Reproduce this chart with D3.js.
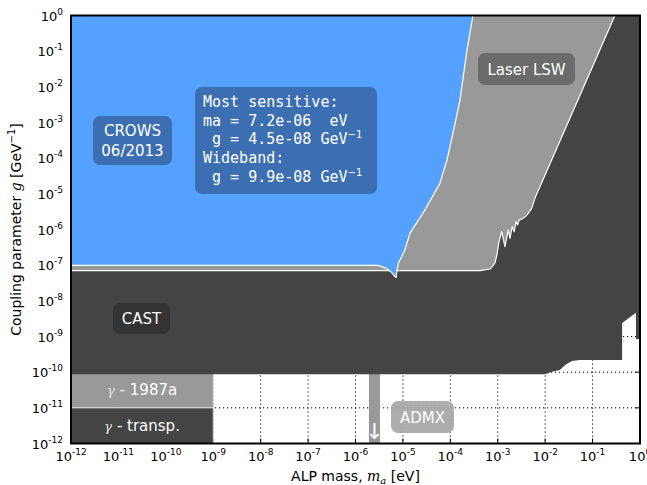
<!DOCTYPE html>
<html>
<head>
<meta charset="utf-8">
<script src="https://cdn.jsdelivr.net/npm/d3@7"></script>
<style>
  body { margin: 0; background: #fff; }
  svg { display: block; font-family: "DejaVu Sans", sans-serif; }
  .mono { font-family: "DejaVu Sans Mono", monospace; white-space: pre; }
</style>
</head>
<body>
<svg id="chart" width="647" height="485"></svg>
<script>
// axis decades (exponents of 10)
const xExponents = [-12, -11, -10, -9, -8, -7, -6, -5, -4, -3, -2, -1, 0];
const yExponents = [-12, -11, -10, -9, -8, -7, -6, -5, -4, -3, -2, -1, 0];

// CROWS 06/2013 excluded region, [m_a eV, g GeV^-1]
const crowsRegion = [
  [1e-12, 1], [3.0e-4, 1], [2.24e-4, 1.07e-1], [1.6e-4, 4.3e-3], [1.14e-4, 5.1e-4],
  [8.5e-5, 8.9e-5], [6.05e-5, 2.0e-5], [2.92e-5, 3.55e-6], [1.41e-5, 7.9e-7],
  [1.1e-5, 2.7e-7], [9.4e-6, 1.73e-7], [8.0e-6, 1.13e-7], [7.4e-6, 6.6e-8],
  [7.2e-6, 4.5e-8], [6.8e-6, 4.8e-8], [5.8e-6, 6.2e-8], [4.5e-6, 8.1e-8],
  [3.0e-6, 9.9e-8], [1e-12, 9.9e-8]
];

// Laser light-shining-through-wall region
const lswRegion = [
  [1e-12, 1], [0.296, 1], [6.1e-3, 7.6e-6], [5.19e-3, 3.9e-6], [4.07e-3, 2.45e-6],
  [3.19e-3, 1.95e-6], [2.84e-3, 1.86e-6], [2.63e-3, 1.35e-6], [2.42e-3, 1.66e-6],
  [2.23e-3, 8.7e-7], [2.02e-3, 1.2e-6], [1.81e-3, 5.6e-7], [1.67e-3, 9.8e-7],
  [1.42e-3, 3.3e-7], [1.21e-3, 8.7e-7], [1.06e-3, 4.5e-7], [9.6e-4, 1.93e-7],
  [8.7e-4, 1.15e-7], [6.9e-4, 7.8e-8], [4.2e-4, 7.0e-8], [1e-12, 7.0e-8]
];

// CAST (helioscope) region
const castRegion = [
  [1e-12, 1], [1, 1], [1, 8.5e-10], [0.82, 8.5e-10], [0.82, 4.6e-9], [0.42, 2.4e-9],
  [0.42, 2.2e-10], [0.0537, 2.2e-10], [0.0367, 2.04e-10], [0.0263, 1.58e-10],
  [0.0204, 1.15e-10], [0.0139, 1.02e-10], [0.01, 8.8e-11], [1e-12, 8.8e-11]
];

// rectangles: [xmin, xmax, gmin, gmax]
const sn1987a = [1e-12, 1e-9, 1e-11, 1e-10];
const transparency = [1e-12, 1e-9, 1e-12, 1e-11];
const admx = [1.92e-6, 3.28e-6, 1e-12, 1e-10];

const sensitiveLines = [
  "Most sensitive:",
  "ma = 7.2e-06  eV",
  " g = 4.5e-08 GeV",
  "Wideband:",
  " g = 9.9e-08 GeV"
];

const svg = d3.select("#chart");
const margin = { left: 71, right: 7, top: 15.5, bottom: 41.5 };
const W = 647, H = 485;
const x0 = margin.left, x1 = W - margin.right;
const y0 = margin.top, y1 = H - margin.bottom;

const x = d3.scaleLog().domain([1e-12, 1]).range([x0, x1]);
const y = d3.scaleLog().domain([1e-12, 1]).range([y1, y0]);

const line = d3.line().x(d => x(d[0])).y(d => y(d[1]));

svg.append("defs").append("clipPath").attr("id", "plotClip")
  .append("rect").attr("x", x0).attr("y", y0).attr("width", x1 - x0).attr("height", y1 - y0);

// grid + ticks (below the regions)
const under = svg.append("g");
xExponents.forEach(e => {
  const px = x(Math.pow(10, e));
  under.append("line").attr("x1", px).attr("x2", px).attr("y1", y0).attr("y2", y1)
    .attr("stroke", "#000").attr("stroke-width", 1).attr("stroke-dasharray", "1.2,2.8");
  under.append("line").attr("x1", px).attr("x2", px).attr("y1", y1).attr("y2", y1 - 5).attr("stroke", "#000");
  under.append("line").attr("x1", px).attr("x2", px).attr("y1", y0).attr("y2", y0 + 5).attr("stroke", "#000");
});
yExponents.forEach(e => {
  const py = y(Math.pow(10, e));
  under.append("line").attr("x1", x0).attr("x2", x1).attr("y1", py).attr("y2", py)
    .attr("stroke", "#000").attr("stroke-width", 1).attr("stroke-dasharray", "1.2,2.8");
  under.append("line").attr("x1", x0).attr("x2", x0 + 5).attr("y1", py).attr("y2", py).attr("stroke", "#000");
  under.append("line").attr("x1", x1).attr("x2", x1 - 5).attr("y1", py).attr("y2", py).attr("stroke", "#000");
});

const plot = svg.append("g").attr("clip-path", "url(#plotClip)");

function rect(r, fill) {
  return plot.append("rect")
    .attr("x", x(r[0])).attr("width", x(r[1]) - x(r[0]))
    .attr("y", y(r[3])).attr("height", y(r[2]) - y(r[3]))
    .attr("fill", fill);
}

rect(sn1987a, "#999999").attr("stroke", "#ddd").attr("stroke-width", 1);
rect(transparency, "#444444").attr("stroke", "#ddd").attr("stroke-width", 1);
rect(admx, "#999999");

plot.append("path").attr("d", line(castRegion) + "Z").attr("fill", "#444444");
plot.append("path").attr("d", line(lswRegion) + "Z").attr("fill", "#999999")
  .attr("stroke", "#fff").attr("stroke-width", 1.2).attr("stroke-linejoin", "round");
plot.append("path").attr("d", line(crowsRegion) + "Z").attr("fill", "#55a1ff")
  .attr("stroke", "#fff").attr("stroke-width", 1.2).attr("stroke-linejoin", "round");

// labels in the plot
const cx = x(Math.pow(10, -10.5));
plot.append("text").attr("x", cx).attr("y", (y(1e-11) + y(1e-10)) / 2 + 5)
  .attr("text-anchor", "middle").attr("fill", "#fff").attr("font-size", 15)
  .call(t => {
    t.append("tspan").attr("font-family", "DejaVu Serif").attr("font-style", "italic")
      .attr("font-size", 13).attr("fill", "#e4e4e4").text("γ");
    t.append("tspan").text(" - 1987a");
  });
plot.append("text").attr("x", cx).attr("y", (y(1e-12) + y(1e-11)) / 2 + 5)
  .attr("text-anchor", "middle").attr("fill", "#fff").attr("font-size", 15)
  .call(t => {
    t.append("tspan").attr("font-family", "DejaVu Serif").attr("font-style", "italic")
      .attr("font-size", 13).attr("fill", "#e4e4e4").text("γ");
    t.append("tspan").text(" - transp.");
  });
plot.append("text").attr("x", (x(admx[0]) + x(admx[1])) / 2).attr("y", y1 - 5)
  .attr("text-anchor", "middle").attr("fill", "#fff").attr("font-size", 22).text("↓");

function box(bx, by, bw, bh, fill) {
  svg.append("rect").attr("x", bx).attr("y", by).attr("width", bw).attr("height", bh)
    .attr("rx", 7).attr("fill", fill);
}

box(93, 116, 79, 49, "#3b6fb2");
svg.append("text").attr("x", 132.5).attr("y", 136).attr("text-anchor", "middle")
  .attr("fill", "#fff").attr("font-size", 15).text("CROWS");
svg.append("text").attr("x", 132.5).attr("y", 156).attr("text-anchor", "middle")
  .attr("fill", "#fff").attr("font-size", 15).text("06/2013");

box(195, 87, 182, 107, "#3b6fb2");
sensitiveLines.forEach((s, i) => {
  const t = svg.append("text").attr("class", "mono").attr("x", 203).attr("y", 107 + i * 18.7)
    .attr("fill", "#fff").attr("font-size", 15);
  t.append("tspan").text(s);
  if (s.endsWith("GeV")) {
    t.append("tspan").attr("font-family", "DejaVu Sans").attr("font-size", 10).attr("dy", -6).text("−1");
  }
});

box(478, 53, 97, 32, "#6b6b6b");
svg.append("text").attr("x", 526.5).attr("y", 74.5).attr("text-anchor", "middle")
  .attr("fill", "#fff").attr("font-size", 15).text("Laser LSW");

box(113, 303, 57, 31, "#333333");
svg.append("text").attr("x", 141.5).attr("y", 324).attr("text-anchor", "middle")
  .attr("fill", "#fff").attr("font-size", 15).text("CAST");

svg.append("rect").attr("x", 391).attr("y", 401).attr("width", 63).attr("height", 32)
  .attr("rx", 7).attr("fill", "#a6a6a6").attr("fill-opacity", 0.92);
svg.append("text").attr("x", 422.5).attr("y", 422.5).attr("text-anchor", "middle")
  .attr("fill", "#fff").attr("font-size", 15).text("ADMX");

// frame
svg.append("rect").attr("x", x0).attr("y", y0).attr("width", x1 - x0).attr("height", y1 - y0)
  .attr("fill", "none").attr("stroke", "#000").attr("stroke-width", 2);

// tick labels
xExponents.forEach(e => {
  const t = svg.append("text").attr("x", x(Math.pow(10, e))).attr("y", 461)
    .attr("text-anchor", "middle").attr("font-size", 13).attr("fill", "#000");
  t.append("tspan").text("10");
  t.append("tspan").attr("font-size", 9).attr("dy", -6).text(e === 0 ? "0" : "-" + (-e));
});
yExponents.forEach(e => {
  const t = svg.append("text").attr("x", 63).attr("y", y(Math.pow(10, e)) + 5)
    .attr("text-anchor", "end").attr("font-size", 13).attr("fill", "#000");
  t.append("tspan").text("10");
  t.append("tspan").attr("font-size", 9).attr("dy", -6).text(e === 0 ? "0" : "-" + (-e));
});

// axis titles
svg.append("text").attr("x", (x0 + x1) / 2).attr("y", 481).attr("text-anchor", "middle")
  .attr("font-size", 14).attr("fill", "#000")
  .call(t => {
    t.append("tspan").text("ALP mass, ");
    t.append("tspan").attr("font-family", "DejaVu Serif").attr("font-style", "italic").text("m");
    t.append("tspan").attr("font-family", "DejaVu Serif").attr("font-style", "italic")
      .attr("font-size", 10).attr("dy", 3).text("a");
    t.append("tspan").attr("dy", -3).text(" [eV]");
  });

svg.append("text").attr("transform", `translate(21,${(y0 + y1) / 2}) rotate(-90)`)
  .attr("text-anchor", "middle").attr("font-size", 14).attr("fill", "#000")
  .call(t => {
    t.append("tspan").text("Coupling parameter ");
    t.append("tspan").attr("font-family", "DejaVu Serif").attr("font-style", "italic").text("g");
    t.append("tspan").text(" [GeV");
    t.append("tspan").attr("font-size", 10).attr("dy", -6).text("−1");
    t.append("tspan").attr("dy", 6).text("]");
  });
</script>
</body>
</html>
